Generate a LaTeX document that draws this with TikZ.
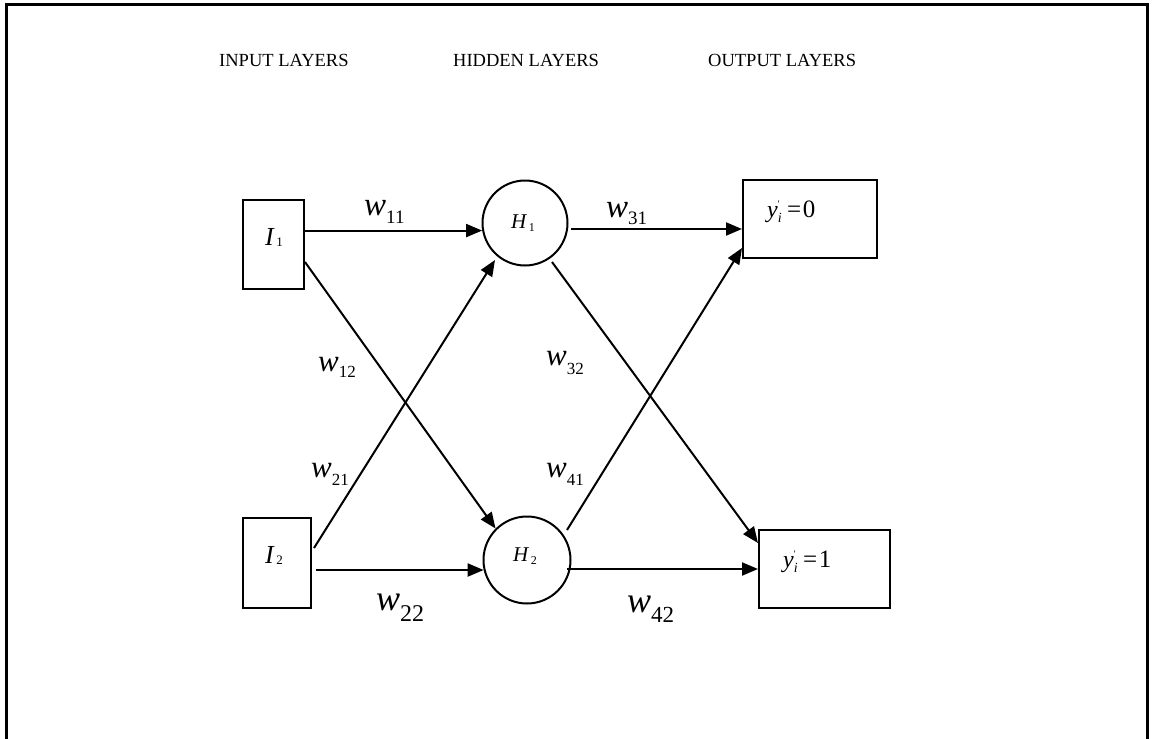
\documentclass[tikz,border=0pt]{standalone}
\usepackage{fontspec}
\setmainfont{Liberation Serif}
\usetikzlibrary{arrows.meta,calc}

% weight label: italic w with an upright numeric subscript
\newcommand{\wlab}[4]{{\fontsize{#1}{#1}\selectfont\textit{w}}\raisebox{-#3}{\fontsize{#2}{#2}\selectfont #4}}
% neuron label: italic letter with a small upright subscript
\newcommand{\nlab}[5]{{\fontsize{#1}{#1}\selectfont\textit{#2}}\hspace{1.5pt}\raisebox{-#5}{\fontsize{#3}{#3}\selectfont #4}}
% output label: y prime sub i = value
\newcommand{\ylab}[1]{\makebox[20pt][l]{\fontsize{24}{24}\selectfont\textit{y}\rlap{\raisebox{10pt}{\fontsize{10}{10}\selectfont\textquotesingle}}\raisebox{-5pt}{\fontsize{14}{14}\selectfont\textit{i}}}{\fontsize{25}{25}\selectfont=\hspace{1.5pt}#1}}

\begin{document}
\begin{tikzpicture}[x=1pt,y=-1pt,
  box/.style={draw,line width=2pt,rectangle,inner sep=0pt},
  neuron/.style={draw,line width=2pt,circle,inner sep=0pt},
  link/.style={line width=2pt,-{Triangle[length=16pt,width=13pt]}},
  txt/.style={inner sep=0pt,anchor=base west},
  hdr/.style={txt,font=\fontsize{18.5}{18.5}\selectfont}]

% page and frame
\path[use as bounding box,fill=white] (0,0) rectangle (1152,739);
\draw[line width=3pt] (6,745) -- (6,4.5) -- (1147,4.5) -- (1147,745);

% layer headings
\node[hdr] (hIn)  at (219,66) {INPUT LAYERS};
\node[hdr] (hHid) at (453,66) {HIDDEN LAYERS};
\node[hdr] (hOut) at (708,66) {OUTPUT LAYERS};

% units
\node[box,minimum width=61pt,minimum height=89pt] (I1) at (273.5,244.5) {};
\node[box,minimum width=68pt,minimum height=90pt] (I2) at (277,563) {};
\node[neuron,minimum size=85pt] (H1) at (525,223) {};
\node[neuron,minimum size=87pt] (H2) at (527,560) {};
\node[box,minimum width=134pt,minimum height=78pt] (Y0) at (810,219) {};
\node[box,minimum width=131pt,minimum height=78pt] (Y1) at (824.5,569) {};

% unit labels
\node[txt] (lI1) at (265,245) {\nlab{26}{I}{13}{1}{1pt}};
\node[txt] (lI2) at (265,563) {\nlab{26}{I}{13}{2}{1pt}};
\node[txt] (lH1) at (511,228) {\nlab{21}{H}{12}{1}{3pt}};
\node[txt] (lH2) at (513,561) {\nlab{21}{H}{12}{2}{3pt}};
\node[txt] (lY0) at (767,217) {\ylab{0}};
\node[txt] (lY1) at (783,567) {\ylab{1}};

% connections
\draw[link] (I1.east |- H1.190) -- (H1.190);
\draw[link] ($(I1.east)+(0,17.5)$) -- (H2.135);
\draw[link] ($(I2.east)+(2,-15)$) -- ($(H1.center)+(-30,37)$);
\draw[link] ($(I2.east |- H2.193)+(4,0)$) -- (H2.193);
\draw[link] ($(H1.east)+(2.5,6)$) -- ($(Y0.west)+(0,10)$);
\draw[link] ($(H1.center)+(27,39)$) -- ($(Y1.west)+(0,-26)$);
\draw[link] ($(H2.center)+(40,-30)$) -- ($(Y0.west)+(0,29)$);
\draw[link] ($(H2.center)+(40,9)$) -- (Y1.west);

% weights
\node[txt] (w11) at (364,215) {\wlab{33}{19}{8pt}{11}};
\node[txt] (w31) at (606,217) {\wlab{33}{19}{7pt}{31}};
\node[txt] (w12) at (318,371) {\wlab{31}{17}{6pt}{12}};
\node[txt] (w21) at (311,477) {\wlab{31}{17}{8pt}{21}};
\node[txt] (w32) at (546,365) {\wlab{31}{17}{9pt}{32}};
\node[txt] (w41) at (546,477) {\wlab{31}{17}{8pt}{41}};
\node[txt] (w22) at (376,610) {\wlab{36}{24}{11pt}{22}};
\node[txt] (w42) at (627,612) {\wlab{36}{23}{10pt}{42}};
\end{tikzpicture}
\end{document}
